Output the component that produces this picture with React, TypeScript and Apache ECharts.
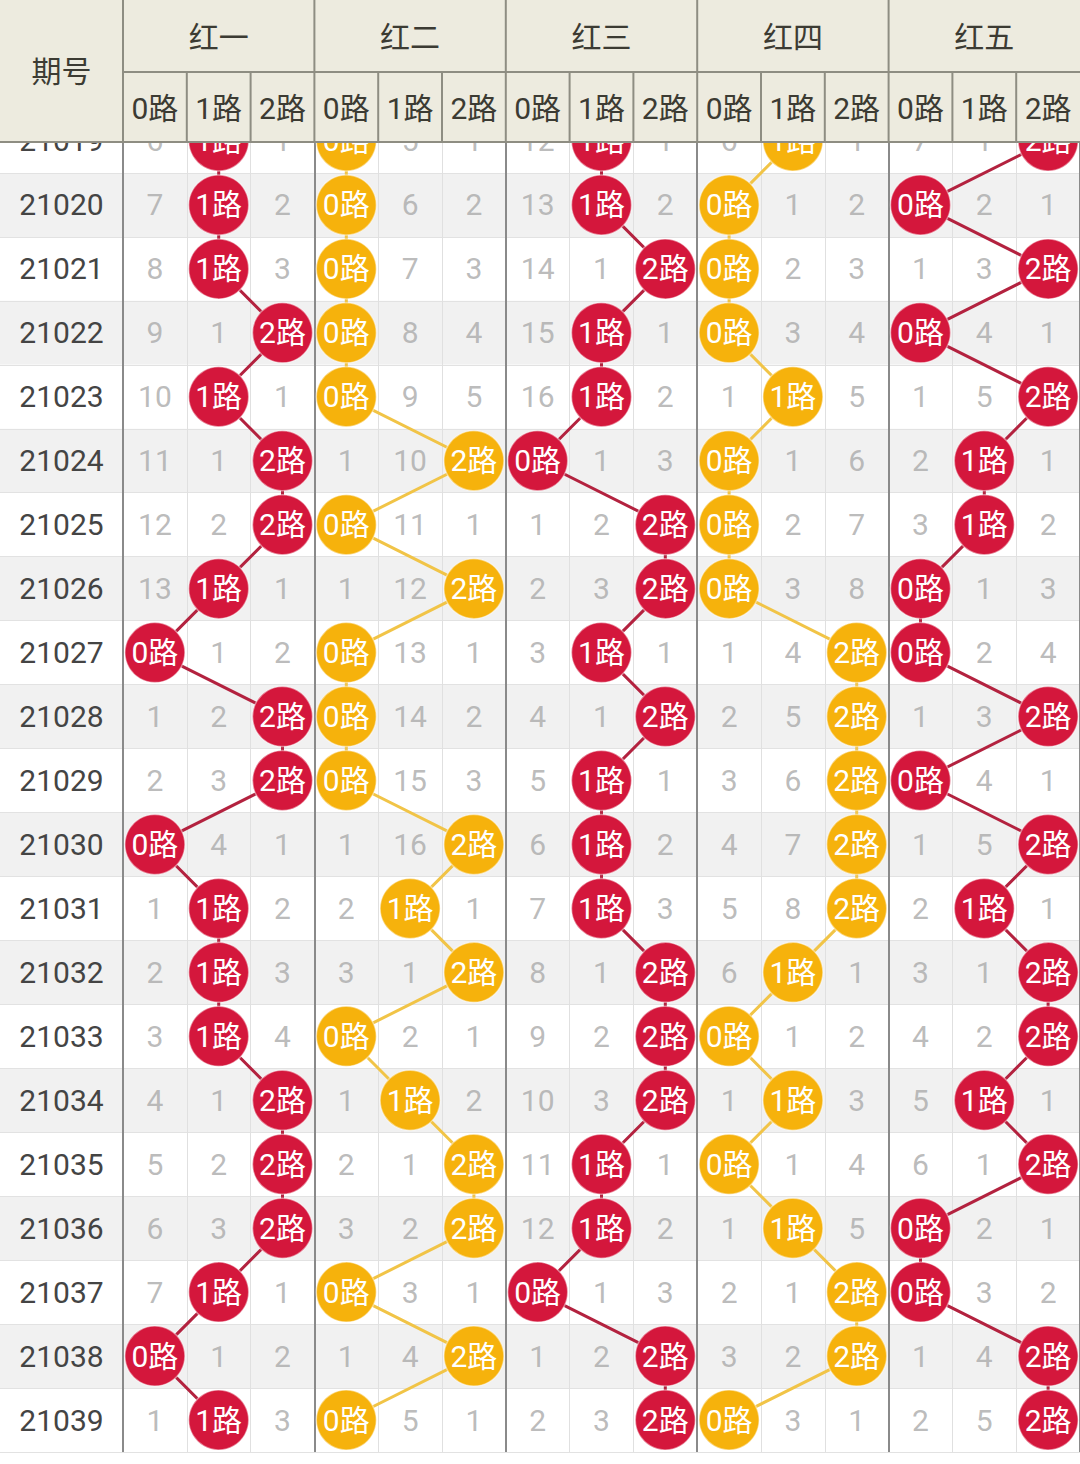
import React, { useEffect, useRef } from 'react';
import * as echarts from 'echarts';

// ---- data (0 = hit, otherwise missing count) ----
const periods = [
  '21019', '21020', '21021', '21022', '21023', '21024', '21025', '21026', '21027', '21028', '21029',
  '21030', '21031', '21032', '21033', '21034', '21035', '21036', '21037', '21038', '21039',
];
const groupNames = ['红一', '红二', '红三', '红四', '红五'];
const routeNames = ['0路', '1路', '2路'];

const red1Route0 = [6, 7, 8, 9, 10, 11, 12, 13, 0, 1, 2, 0, 1, 2, 3, 4, 5, 6, 7, 0, 1];
const red1Route1 = [0, 0, 0, 1, 0, 1, 2, 0, 1, 2, 3, 4, 0, 0, 0, 1, 2, 3, 0, 1, 0];
const red1Route2 = [1, 2, 3, 0, 1, 0, 0, 1, 2, 0, 0, 1, 2, 3, 4, 0, 0, 0, 1, 2, 3];

const red2Route0 = [0, 0, 0, 0, 0, 1, 0, 1, 0, 0, 0, 1, 2, 3, 0, 1, 2, 3, 0, 1, 0];
const red2Route1 = [5, 6, 7, 8, 9, 10, 11, 12, 13, 14, 15, 16, 0, 1, 2, 0, 1, 2, 3, 4, 5];
const red2Route2 = [1, 2, 3, 4, 5, 0, 1, 0, 1, 2, 3, 0, 1, 0, 1, 2, 0, 0, 1, 0, 1];

const red3Route0 = [12, 13, 14, 15, 16, 0, 1, 2, 3, 4, 5, 6, 7, 8, 9, 10, 11, 12, 0, 1, 2];
const red3Route1 = [0, 0, 1, 0, 0, 1, 2, 3, 0, 1, 0, 0, 0, 1, 2, 3, 0, 0, 1, 2, 3];
const red3Route2 = [1, 2, 0, 1, 2, 3, 0, 0, 1, 0, 1, 2, 3, 0, 0, 0, 1, 2, 3, 0, 0];

const red4Route0 = [6, 0, 0, 0, 1, 0, 0, 0, 1, 2, 3, 4, 5, 6, 0, 1, 0, 1, 2, 3, 0];
const red4Route1 = [0, 1, 2, 3, 0, 1, 2, 3, 4, 5, 6, 7, 8, 0, 1, 0, 1, 0, 1, 2, 3];
const red4Route2 = [1, 2, 3, 4, 5, 6, 7, 8, 0, 0, 0, 0, 0, 1, 2, 3, 4, 5, 0, 0, 1];

const red5Route0 = [7, 0, 1, 0, 1, 2, 3, 0, 0, 1, 0, 1, 2, 3, 4, 5, 6, 0, 0, 1, 2];
const red5Route1 = [1, 2, 3, 4, 5, 0, 0, 1, 2, 3, 4, 5, 0, 1, 2, 0, 1, 2, 3, 4, 5];
const red5Route2 = [0, 1, 0, 1, 0, 1, 2, 3, 4, 0, 1, 0, 1, 0, 0, 1, 0, 1, 2, 0, 0];

const groupRoutes = [
  [red1Route0, red1Route1, red1Route2],
  [red2Route0, red2Route1, red2Route2],
  [red3Route0, red3Route1, red3Route2],
  [red4Route0, red4Route1, red4Route2],
  [red5Route0, red5Route1, red5Route2],
];

// ---- styles / layout ----
const W = 1080;
const H = 1464;
const FIRST_W = 123;
const HEADER_H = 143;
const HEADER_ROW1 = 72;
const BODY_TOP = 109;
const BODY_BOTTOM = 1452;
const NCOL = 15;
const COL_W = (W - FIRST_W) / NCOL;
const FONT = 'Roboto, "Noto Sans CJK SC", sans-serif';
const RED = '#d4173c';
const ORANGE = '#f6b20c';
const RED_LINE = '#b3223f';
const ORANGE_LINE = '#f1c447';
const groupColors = [RED, ORANGE, RED, ORANGE, RED];
const groupLineColors = [RED_LINE, ORANGE_LINE, RED_LINE, ORANGE_LINE, RED_LINE];
const HEADER_BG = '#edebdf';
const HEADER_LINE = '#8e8d82';
const HEADER_TEXT = '#3c3b33';

function buildHeader(): any[] {
  const els: any[] = [];
  const z = 100;
  els.push({ type: 'rect', z, shape: { x: 0, y: 0, width: W, height: HEADER_H }, style: { fill: HEADER_BG } });
  const txt = (text: string, x: number, y: number) => ({
    type: 'text', z: z + 2,
    style: {
      text, x, y, fill: HEADER_TEXT, fontSize: 30, fontFamily: FONT,
      align: 'center', verticalAlign: 'middle', textAlign: 'center', textVerticalAlign: 'middle',
    },
  });
  els.push(txt('期号', FIRST_W / 2, HEADER_H / 2));
  groupNames.forEach((n, g) => {
    els.push(txt(n, FIRST_W + (3 * g + 1.5) * COL_W, HEADER_ROW1 / 2 + 1));
  });
  for (let c = 0; c < NCOL; c++) {
    els.push(txt(routeNames[c % 3], FIRST_W + (c + 0.5) * COL_W, (HEADER_ROW1 + HEADER_H) / 2 + 1));
  }
  const line = (x1: number, y1: number, x2: number, y2: number) => ({
    type: 'line', z: z + 1,
    shape: { x1, y1, x2, y2 },
    style: { stroke: HEADER_LINE, lineWidth: 2 },
  });
  els.push(line(FIRST_W, HEADER_ROW1, W, HEADER_ROW1));
  els.push(line(0, HEADER_H - 1, W, HEADER_H - 1));
  els.push(line(FIRST_W, 0, FIRST_W, HEADER_H));
  for (let c = 1; c < NCOL; c++) {
    const x = FIRST_W + c * COL_W;
    if (c % 3 === 0) els.push(line(x, 0, x, HEADER_H));
    else els.push(line(x, HEADER_ROW1, x, HEADER_H));
  }
  return els;
}

function buildSeries(): any[] {
  const series: any[] = [];
  groupRoutes.forEach((routes, g) => {
    const hits: any[] = [];
    const misses: any[] = [];
    periods.forEach((_, i) => {
      routes.forEach((arr, r) => {
        const x = 3 * g + r + 0.5;
        if (arr[i] === 0) hits.push([x, i, r]);
        else misses.push([x, i, arr[i]]);
      });
    });
    series.push({
      type: 'line',
      xAxisIndex: 1,
      yAxisIndex: 1,
      z: 3,
      symbol: 'none',
      silent: true,
      data: hits.map((p) => [p[0], p[1]]),
      lineStyle: { color: groupLineColors[g], width: 3 },
    });
    series.push({
      type: 'scatter',
      xAxisIndex: 1,
      yAxisIndex: 1,
      z: 4,
      symbol: 'circle',
      symbolSize: 60,
      data: hits,
      itemStyle: { color: groupColors[g], borderColor: 'rgba(255,255,255,0.45)', borderWidth: 1.5, opacity: 1 },
      label: {
        show: true,
        position: 'inside',
        formatter: (p: any) => routeNames[p.value[2]],
        color: '#ffffff',
        fontSize: 30,
        fontFamily: FONT,
      },
    });
    series.push({
      type: 'scatter',
      xAxisIndex: 1,
      yAxisIndex: 1,
      z: 2,
      symbol: 'circle',
      symbolSize: 1,
      data: misses,
      itemStyle: { color: 'rgba(0,0,0,0)' },
      label: {
        show: true,
        position: 'inside',
        formatter: (p: any) => String(p.value[2]),
        color: '#aaaaaa',
        fontSize: 30,
        fontFamily: FONT,
      },
    });
  });
  return series;
}

export default function App() {
  const ref = useRef<HTMLDivElement>(null);
  useEffect(() => {
    if (!ref.current) return;
    const chart = echarts.init(ref.current, undefined, { renderer: 'svg' });
    const gridH = BODY_BOTTOM - BODY_TOP;
    const option: any = {
      animation: false,
      backgroundColor: '#ffffff',
      grid: [
        { left: 0, top: BODY_TOP, width: FIRST_W, height: gridH },
        { left: FIRST_W, top: BODY_TOP, width: W - FIRST_W, height: gridH },
      ],
      xAxis: [
        { gridIndex: 0, type: 'value', min: 0, max: 1, show: false },
        {
          gridIndex: 1, type: 'value', min: 0, max: NCOL, interval: 1, z: 1,
          axisLine: { show: false }, axisTick: { show: false }, axisLabel: { show: false },
          splitLine: { show: true, lineStyle: { color: '#e0e0e0', width: 1 } },
        },
        {
          gridIndex: 1, type: 'value', min: 0, max: NCOL, interval: 3, z: 1, position: 'top',
          axisLine: { show: false }, axisTick: { show: false }, axisLabel: { show: false },
          splitLine: { show: true, lineStyle: { color: '#8a8a8a', width: 2 } },
        },
      ],
      yAxis: [
        {
          gridIndex: 0, type: 'category', data: periods, inverse: true, z: 0,
          axisLine: { show: false }, axisTick: { show: false, interval: 0 },
          axisLabel: {
            show: true, interval: 0, inside: true, margin: FIRST_W / 2, align: 'center',
            color: '#444444', fontSize: 30, fontFamily: FONT,
          },
          splitLine: { show: true, interval: 0, lineStyle: { color: '#e2e2e2', width: 1 } },
          splitArea: { show: true, interval: 0, areaStyle: { color: ['#ffffff', '#f1f1f1'] } },
        },
        {
          gridIndex: 1, type: 'category', data: periods, inverse: true, z: 0,
          axisLine: { show: false }, axisTick: { show: false, interval: 0 },
          axisLabel: { show: false, interval: 0 },
          splitLine: { show: true, interval: 0, lineStyle: { color: '#e2e2e2', width: 1 } },
          splitArea: { show: true, interval: 0, areaStyle: { color: ['#ffffff', '#f1f1f1'] } },
        },
      ],
      graphic: buildHeader(),
      series: buildSeries(),
    };
    chart.setOption(option);
    return () => chart.dispose();
  }, []);
  return (
    <div
      ref={ref}
      style={{ position: 'absolute', left: 0, top: 0, width: W, height: H, background: '#fff' }}
    />
  );
}
